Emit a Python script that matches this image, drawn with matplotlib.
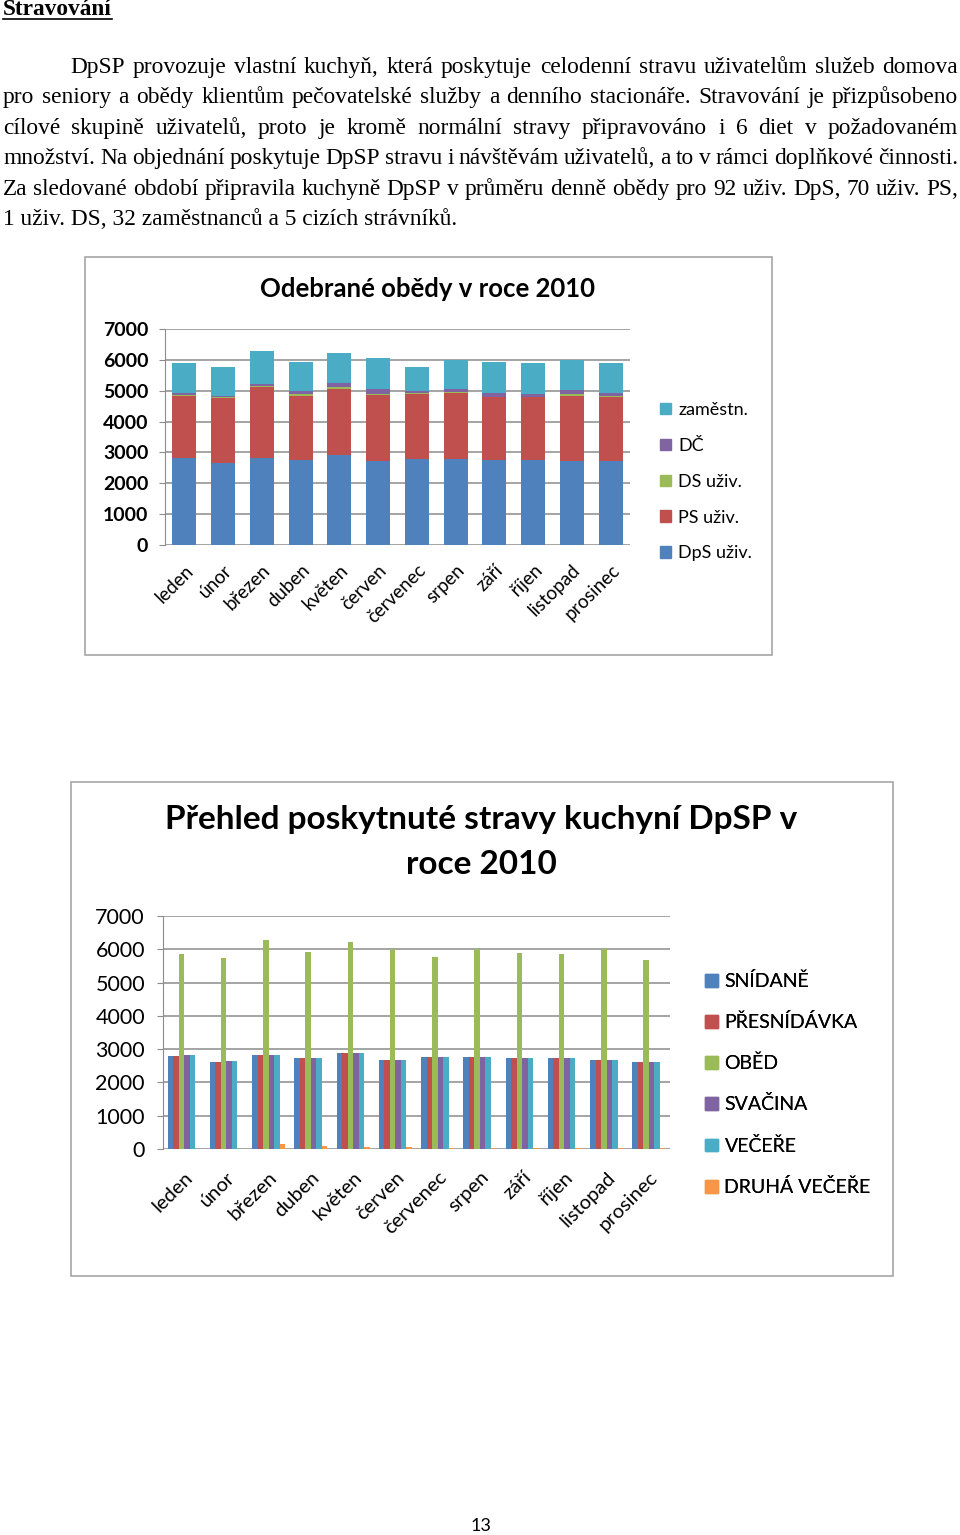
import matplotlib

matplotlib.use("Agg")
import matplotlib.pyplot as plt
from matplotlib.patches import Patch, Rectangle
import numpy as np

W, H = 960, 1535

months = ["leden", "únor", "březen", "duben", "květen", "červen",
          "červenec", "srpen", "září", "říjen", "listopad", "prosinec"]

# chart 1 - stacked lunches per group
dps_uziv = [2830, 2650, 2830, 2760, 2920, 2720, 2800, 2800, 2760, 2760, 2720, 2720]
ps_uziv = [2010, 2120, 2280, 2080, 2140, 2150, 2090, 2120, 2030, 2030, 2120, 2070]
ds_uziv = [20, 20, 40, 40, 50, 20, 20, 30, 20, 20, 40, 30]
dc = [60, 50, 80, 110, 150, 180, 80, 110, 110, 80, 150, 100]
zamestn = [980, 940, 1050, 930, 965, 980, 790, 925, 1010, 1000, 965, 970]

# chart 2 - meals served per month
snidane = [2780, 2600, 2810, 2730, 2890, 2680, 2770, 2770, 2730, 2730, 2680, 2600]
presnidavka = [2780, 2600, 2810, 2730, 2890, 2680, 2770, 2770, 2730, 2730, 2680, 2600]
obed = [5860, 5730, 6270, 5930, 6230, 6000, 5760, 6000, 5900, 5850, 6000, 5680]
svacina = [2810, 2640, 2810, 2730, 2890, 2680, 2770, 2770, 2730, 2730, 2680, 2600]
vecere = [2810, 2640, 2810, 2730, 2890, 2680, 2770, 2770, 2730, 2730, 2680, 2600]
druha_vecere = [10, 5, 140, 100, 50, 50, 45, 45, 45, 45, 45, 45]

yticks = [0, 1000, 2000, 3000, 4000, 5000, 6000, 7000]

BLUE, RED, GREEN, PURPLE, TEAL, ORANGE = "#4F81BD", "#C0504D", "#9BBB59", "#8064A2", "#4BACC6", "#F79646"
GRID = "#8c8c8c"
CHART_FONT = "Lato"
SERIF = "Liberation Serif"

heading = "Stravování"
paragraph = [
    "DpSP provozuje vlastní kuchyň, která poskytuje celodenní stravu uživatelům služeb domova",
    "pro seniory a obědy klientům pečovatelské služby a denního stacionáře. Stravování je přizpůsobeno",
    "cílové skupině uživatelů, proto je kromě normální stravy připravováno i 6 diet v\u00a0požadovaném",
    "množství. Na objednání poskytuje DpSP stravu i návštěvám uživatelů, a to v rámci doplňkové činnosti.",
    "Za sledované období připravila kuchyně DpSP v průměru denně  obědy pro 92 uživ. DpS,  70 uživ. PS,",
    "1 uživ. DS, 32 zaměstnanců a 5 cizích strávníků.",
]

fig = plt.figure(figsize=(W / 100, H / 100), dpi=100)
page = fig.add_axes([0, 0, 1, 1])
page.set_xlim(0, W)
page.set_ylim(H, 0)
page.axis("off")
renderer = fig.canvas.get_renderer()


def frac(x0, y0, x1, y1):
    return [x0 / W, 1 - y1 / H, (x1 - x0) / W, (y1 - y0) / H]


def justified(line, x0, x1, y, size, last=False):
    if last:
        page.text(x0, y, line, fontsize=size, family=SERIF, va="baseline")
        return
    words = line.split()
    texts = [page.text(0, y, w, fontsize=size, family=SERIF, va="baseline") for w in words]
    widths = [t.get_window_extent(renderer).width for t in texts]
    gap = (x1 - x0 - sum(widths)) / (len(words) - 1)
    xpos = x0
    for t, w in zip(texts, widths):
        t.set_x(xpos)
        xpos += w + gap


# --- text block ---
body_size = 16.8
h = page.text(3, 15, heading, fontsize=body_size, family=SERIF, fontweight="bold", va="baseline")
hw = h.get_window_extent(renderer).width
page.plot([3, 3 + hw], [18.5, 18.5], color="black", lw=1.2)

base = 73
for i, line in enumerate(paragraph):
    x0 = 70 if i == 0 else 3
    justified(line, x0, 958, base + 30.4 * i, body_size, last=(i == len(paragraph) - 1))

# --- chart frames ---
for (x0, y0, x1, y1) in [(85, 257, 772, 655), (71, 782, 893, 1276)]:
    page.add_patch(Rectangle((x0, y0), x1 - x0, y1 - y0, fill=False, edgecolor="#a6a6a6", lw=1.2))


def style_axis(ax, tick_size, bold, pad):
    ax.set_ylim(0, 7000)
    ax.set_xlim(-0.5, len(months) - 0.5)
    ax.set_yticks(yticks)
    ax.set_yticklabels([str(v) for v in yticks], fontsize=tick_size, family=CHART_FONT,
                       fontweight="bold" if bold else "normal")
    ax.grid(axis="y", color=GRID, lw=1.1)
    ax.set_axisbelow(True)
    for s in ("top", "right", "bottom"):
        ax.spines[s].set_visible(False)
    ax.spines["left"].set_color(GRID)
    ax.tick_params(axis="y", length=4, color=GRID, pad=pad)
    ax.tick_params(axis="x", length=0)
    ax.patch.set_alpha(0)


# --- chart 1 ---
ax1 = fig.add_axes(frac(165, 329, 630, 545))
x = np.arange(len(months))
bottom = np.zeros(len(months))
series1 = [("DpS uživ.", dps_uziv, BLUE), ("PS uživ.", ps_uziv, RED), ("DS uživ.", ds_uziv, GREEN),
           ("DČ", dc, PURPLE), ("zaměstn.", zamestn, TEAL)]
for name, vals, col in series1:
    ax1.bar(x, vals, 0.62, bottom=bottom, color=col, label=name)
    bottom += np.array(vals)
style_axis(ax1, 14, True, 8)
ax1.set_xticks(x)
ax1.set_xticklabels(months, rotation=45, ha="right", rotation_mode="anchor",
                    fontsize=13.5, family=CHART_FONT)
ax1.tick_params(axis="x", pad=12)
page.text(427, 289, "Odebrané obědy v roce 2010", ha="center", va="center",
          fontsize=18.5, fontweight="bold", family=CHART_FONT)
h1 = [Patch(color=c) for _, _, c in series1][::-1]
l1 = [n for n, _, _ in series1][::-1]
leg1 = page.legend(h1, l1, loc="upper left", bbox_to_anchor=(660, 402), bbox_transform=page.transData,
                   frameon=False, prop={"family": CHART_FONT, "size": 13}, handlelength=0.6,
                   handleheight=0.6, handletextpad=0.4, labelspacing=1.1, borderpad=0, borderaxespad=0)
page.add_artist(leg1)

# --- chart 2 ---
ax2 = fig.add_axes(frac(163, 916, 670, 1149))
series2 = [("SNÍDANĚ", snidane, BLUE), ("PŘESNÍDÁVKA", presnidavka, RED), ("OBĚD", obed, GREEN),
           ("SVAČINA", svacina, PURPLE), ("VEČEŘE", vecere, TEAL), ("DRUHÁ VEČEŘE", druha_vecere, ORANGE)]
bw = 0.13
for i, (name, vals, col) in enumerate(series2):
    ax2.bar(x + (i - 2.5) * bw, vals, bw, color=col, label=name)
style_axis(ax2, 15.5, False, 9)
ax2.set_xticks(x)
ax2.set_xticklabels(months, rotation=45, ha="right", rotation_mode="anchor",
                    fontsize=14.5, family=CHART_FONT)
ax2.tick_params(axis="x", pad=14)
page.text(481, 820, "Přehled poskytnuté stravy kuchyní DpSP v", ha="center", va="center",
          fontsize=24, fontweight="bold", family=CHART_FONT)
page.text(481, 864, "roce 2010", ha="center", va="center",
          fontsize=24, fontweight="bold", family=CHART_FONT)
h2 = [Patch(color=c) for _, _, c in series2]
l2 = [n for n, _, _ in series2]
leg2 = page.legend(h2, l2, loc="upper left", bbox_to_anchor=(705, 972), bbox_transform=page.transData,
                   frameon=False, prop={"family": CHART_FONT, "size": 14}, handlelength=0.65,
                   handleheight=0.65, handletextpad=0.35, labelspacing=1.2, borderpad=0, borderaxespad=0)
page.add_artist(leg2)

page.text(481, 1526, "13", ha="center", va="center", fontsize=13, family=CHART_FONT)

fig.savefig("out.png", dpi=100)
